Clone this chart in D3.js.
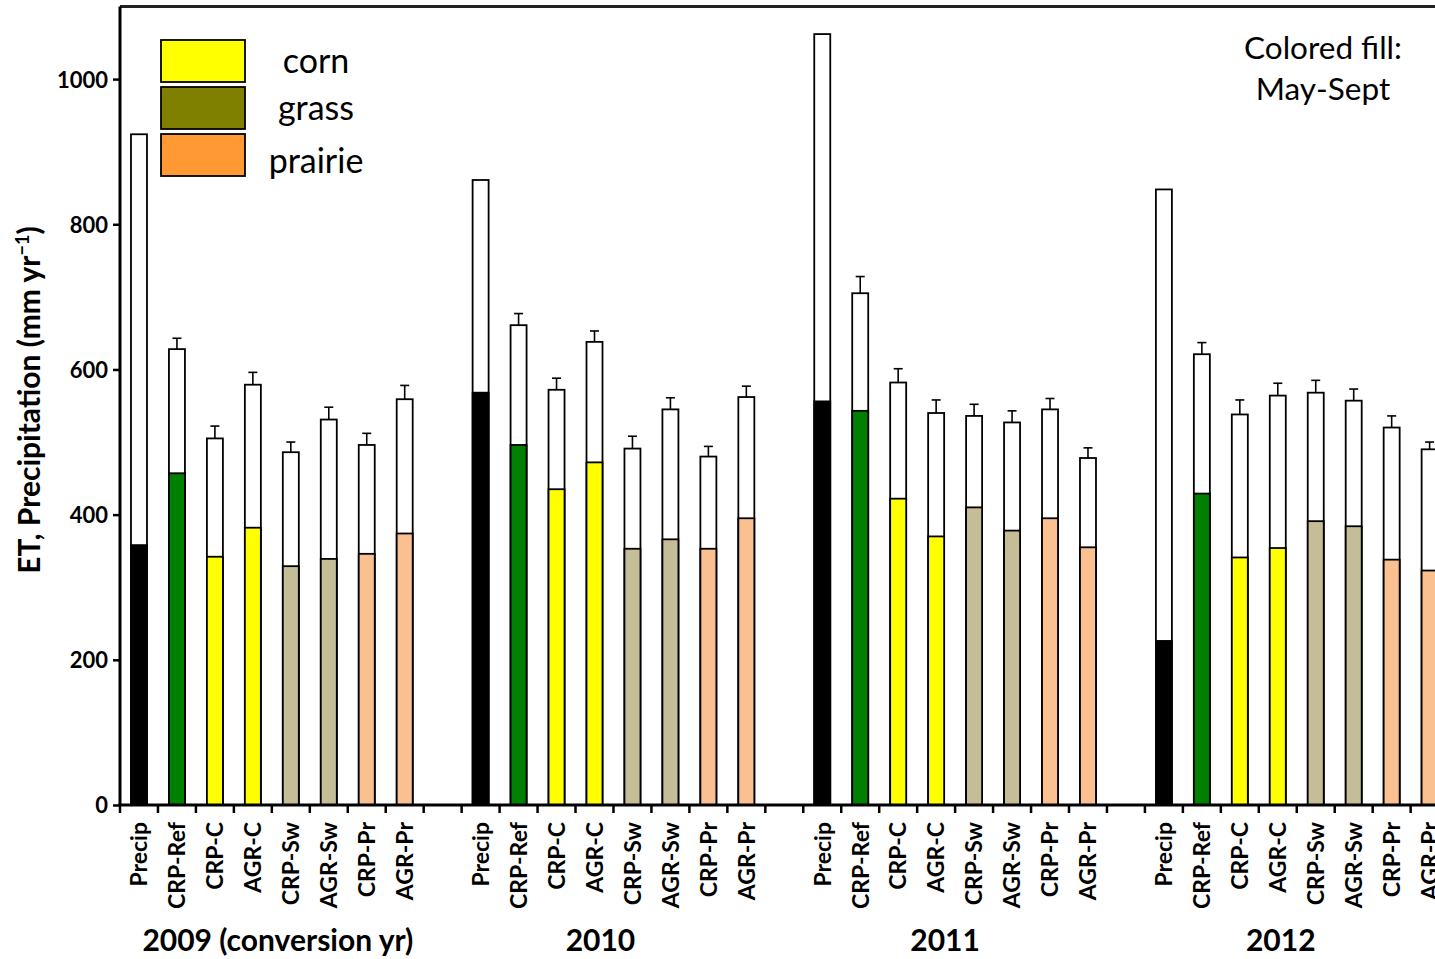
<!DOCTYPE html>
<html>
<head>
<meta charset="utf-8">
<script src="https://cdn.jsdelivr.net/npm/d3@7"></script>
<style>
  html, body { margin: 0; padding: 0; background: #fff; overflow: hidden; }
  svg { display: block; }
  text { font-family: Lato, "Open Sans", sans-serif; fill: #000; }
</style>
</head>
<body>
<div id="chart"></div>
<script>
// ---------- data ----------
const years = ["2009 (conversion yr)", "2010", "2011", "2012"];
const treatments = ["Precip", "CRP-Ref", "CRP-C", "AGR-C", "CRP-Sw", "AGR-Sw", "CRP-Pr", "AGR-Pr"];
const barColors = ["#000000", "#008000", "#ffff00", "#ffff00", "#c4bd97", "#c4bd97", "#fac090", "#fac090"];

// annual totals (mm/yr)
const annual2009 = [924, 628, 505, 579, 486, 531, 496, 559];
const annual2010 = [861, 661, 572, 638, 491, 545, 480, 562];
const annual2011 = [1062, 705, 582, 540, 536, 527, 545, 478];
const annual2012 = [848, 621, 538, 564, 568, 557, 520, 490];

// May-Sept (colored fill)
const maySept2009 = [358, 457, 342, 382, 329, 339, 346, 374];
const maySept2010 = [568, 496, 435, 472, 353, 366, 353, 395];
const maySept2011 = [556, 543, 422, 370, 410, 378, 395, 355];
const maySept2012 = [226, 429, 341, 354, 391, 384, 338, 323];

// error bar tops (annual + SE); Precip has none
const errTop2009 = [null, 643, 522, 596, 500, 548, 512, 578];
const errTop2010 = [null, 677, 588, 653, 508, 561, 494, 577];
const errTop2011 = [null, 728, 601, 558, 552, 543, 560, 492];
const errTop2012 = [null, 637, 558, 581, 585, 573, 536, 500];

const yTicks = [0, 200, 400, 600, 800, 1000];
const legendLabels = ["corn", "grass", "prairie"];
const legendColors = ["#ffff00", "#808000", "#ff9933"];
const noteLines = ["Colored fill:", "May-Sept"];

// ---------- build rows ----------
const annualAll = [annual2009, annual2010, annual2011, annual2012];
const maySeptAll = [maySept2009, maySept2010, maySept2011, maySept2012];
const errAll = [errTop2009, errTop2010, errTop2011, errTop2012];

const slots = [];
const rows = [];
years.forEach((yr, gi) => {
  treatments.forEach((t, ti) => {
    const id = gi + "|" + t;
    slots.push(id);
    rows.push({ id, gi, t, color: barColors[ti],
      total: annualAll[gi][ti], fill: maySeptAll[gi][ti], err: errAll[gi][ti] });
  });
  slots.push(gi + "|gap");
});

// ---------- layout ----------
const W = 1520, H = 959;
const x0 = 120, step = 37.96;
const y = d3.scaleLinear().domain([0, 1100]).range([805, 6.5]);
const pad = 1 - 16 / step;
const x = d3.scaleBand().domain(slots).range([x0, x0 + step * slots.length])
  .paddingInner(pad).paddingOuter(pad / 2);

const svg = d3.select("#chart").append("svg").attr("width", W).attr("height", H);

// top frame line
svg.append("line").attr("x1", x0).attr("x2", W).attr("y1", y(1100)).attr("y2", y(1100))
  .attr("stroke", "#222").attr("stroke-width", 3);

// bars
const g = svg.append("g");
const bw = x.bandwidth();
rows.forEach(d => {
  const bx = x(d.id);
  if (d.err != null) {
    const cx = bx + bw / 2;
    g.append("line").attr("x1", cx).attr("x2", cx).attr("y1", y(d.total)).attr("y2", y(d.err))
      .attr("stroke", "#000").attr("stroke-width", 1.6);
    g.append("line").attr("x1", cx - 4.5).attr("x2", cx + 4.5).attr("y1", y(d.err)).attr("y2", y(d.err))
      .attr("stroke", "#000").attr("stroke-width", 1.6);
  }
  g.append("rect").attr("x", bx).attr("y", y(d.total)).attr("width", bw)
    .attr("height", y(0) - y(d.total)).attr("fill", "#fff").attr("stroke", "#000").attr("stroke-width", 1.8);
  g.append("rect").attr("x", bx).attr("y", y(d.fill)).attr("width", bw)
    .attr("height", y(0) - y(d.fill)).attr("fill", d.color).attr("stroke", "#000").attr("stroke-width", 1.8);
});

// y axis
const yAxis = svg.append("g").attr("transform", `translate(${x0},0)`)
  .call(d3.axisLeft(y).tickValues(yTicks).tickSize(7).tickPadding(5).tickFormat(d3.format("d")));
yAxis.select(".domain").attr("stroke", "#000").attr("stroke-width", 3).attr("d", `M0,${y(0)}V${y(1100)}`);
yAxis.selectAll(".tick line").attr("stroke", "#000").attr("stroke-width", 2.5);
yAxis.selectAll(".tick text").style("font-family", "Lato, sans-serif").style("font-weight", "bold")
  .style("font-size", "22px").attr("fill", "#000").attr("dy", "0.36em");

// x axis line and boundary ticks
svg.append("line").attr("x1", x0 - 1.5).attr("x2", W).attr("y1", y(0)).attr("y2", y(0))
  .attr("stroke", "#000").attr("stroke-width", 3);
d3.range(slots.length + 1).forEach(i => {
  const tx = x0 + i * x.step();
  svg.append("line").attr("x1", tx).attr("x2", tx).attr("y1", y(0)).attr("y2", y(0) + 8)
    .attr("stroke", "#000").attr("stroke-width", 2.5);
});

// x labels
rows.forEach(d => {
  const cx = x(d.id) + bw / 2;
  svg.append("text").attr("transform", `translate(${cx},${y(0) + 17}) rotate(-90)`)
    .attr("text-anchor", "end").attr("dy", "0.36em")
    .style("font-weight", "bold").style("font-size", "23px").text(d.t);
});

// group labels
const groupLabelShift = [6, -13, -10, -16];
years.forEach((yr, gi) => {
  const first = x(gi + "|" + treatments[0]);
  const last = x(gi + "|" + treatments[treatments.length - 1]) + bw;
  const cx = (first + last) / 2 + groupLabelShift[gi];
  svg.append("text").attr("x", cx).attr("y", 951).attr("text-anchor", "middle")
    .style("font-weight", "bold").style("font-size", "30px").text(yr);
});

// y title
const yt = svg.append("text").attr("transform", `translate(40,400) rotate(-90)`)
  .attr("text-anchor", "middle").style("font-weight", "bold").style("font-size", "30px");
yt.append("tspan").text("ET, Precipitation (mm yr");
yt.append("tspan").attr("baseline-shift", "super").style("font-size", "18px").text("\u22121");
yt.append("tspan").text(")");

// legend
const legendBaselines = [73, 120, 173];
legendLabels.forEach((lab, i) => {
  const ly = 40 + i * 47;
  svg.append("rect").attr("x", 161).attr("y", ly).attr("width", 84).attr("height", 42)
    .attr("fill", legendColors[i]).attr("stroke", "#000").attr("stroke-width", 1.8);
  svg.append("text").attr("x", 316).attr("y", legendBaselines[i]).attr("text-anchor", "middle")
    .style("font-size", "34px").text(lab);
});

// note
noteLines.forEach((t, i) => {
  svg.append("text").attr("x", 1323).attr("y", 59 + i * 41).attr("text-anchor", "middle")
    .style("font-size", "31.5px").text(t);
});
</script>
</body>
</html>
